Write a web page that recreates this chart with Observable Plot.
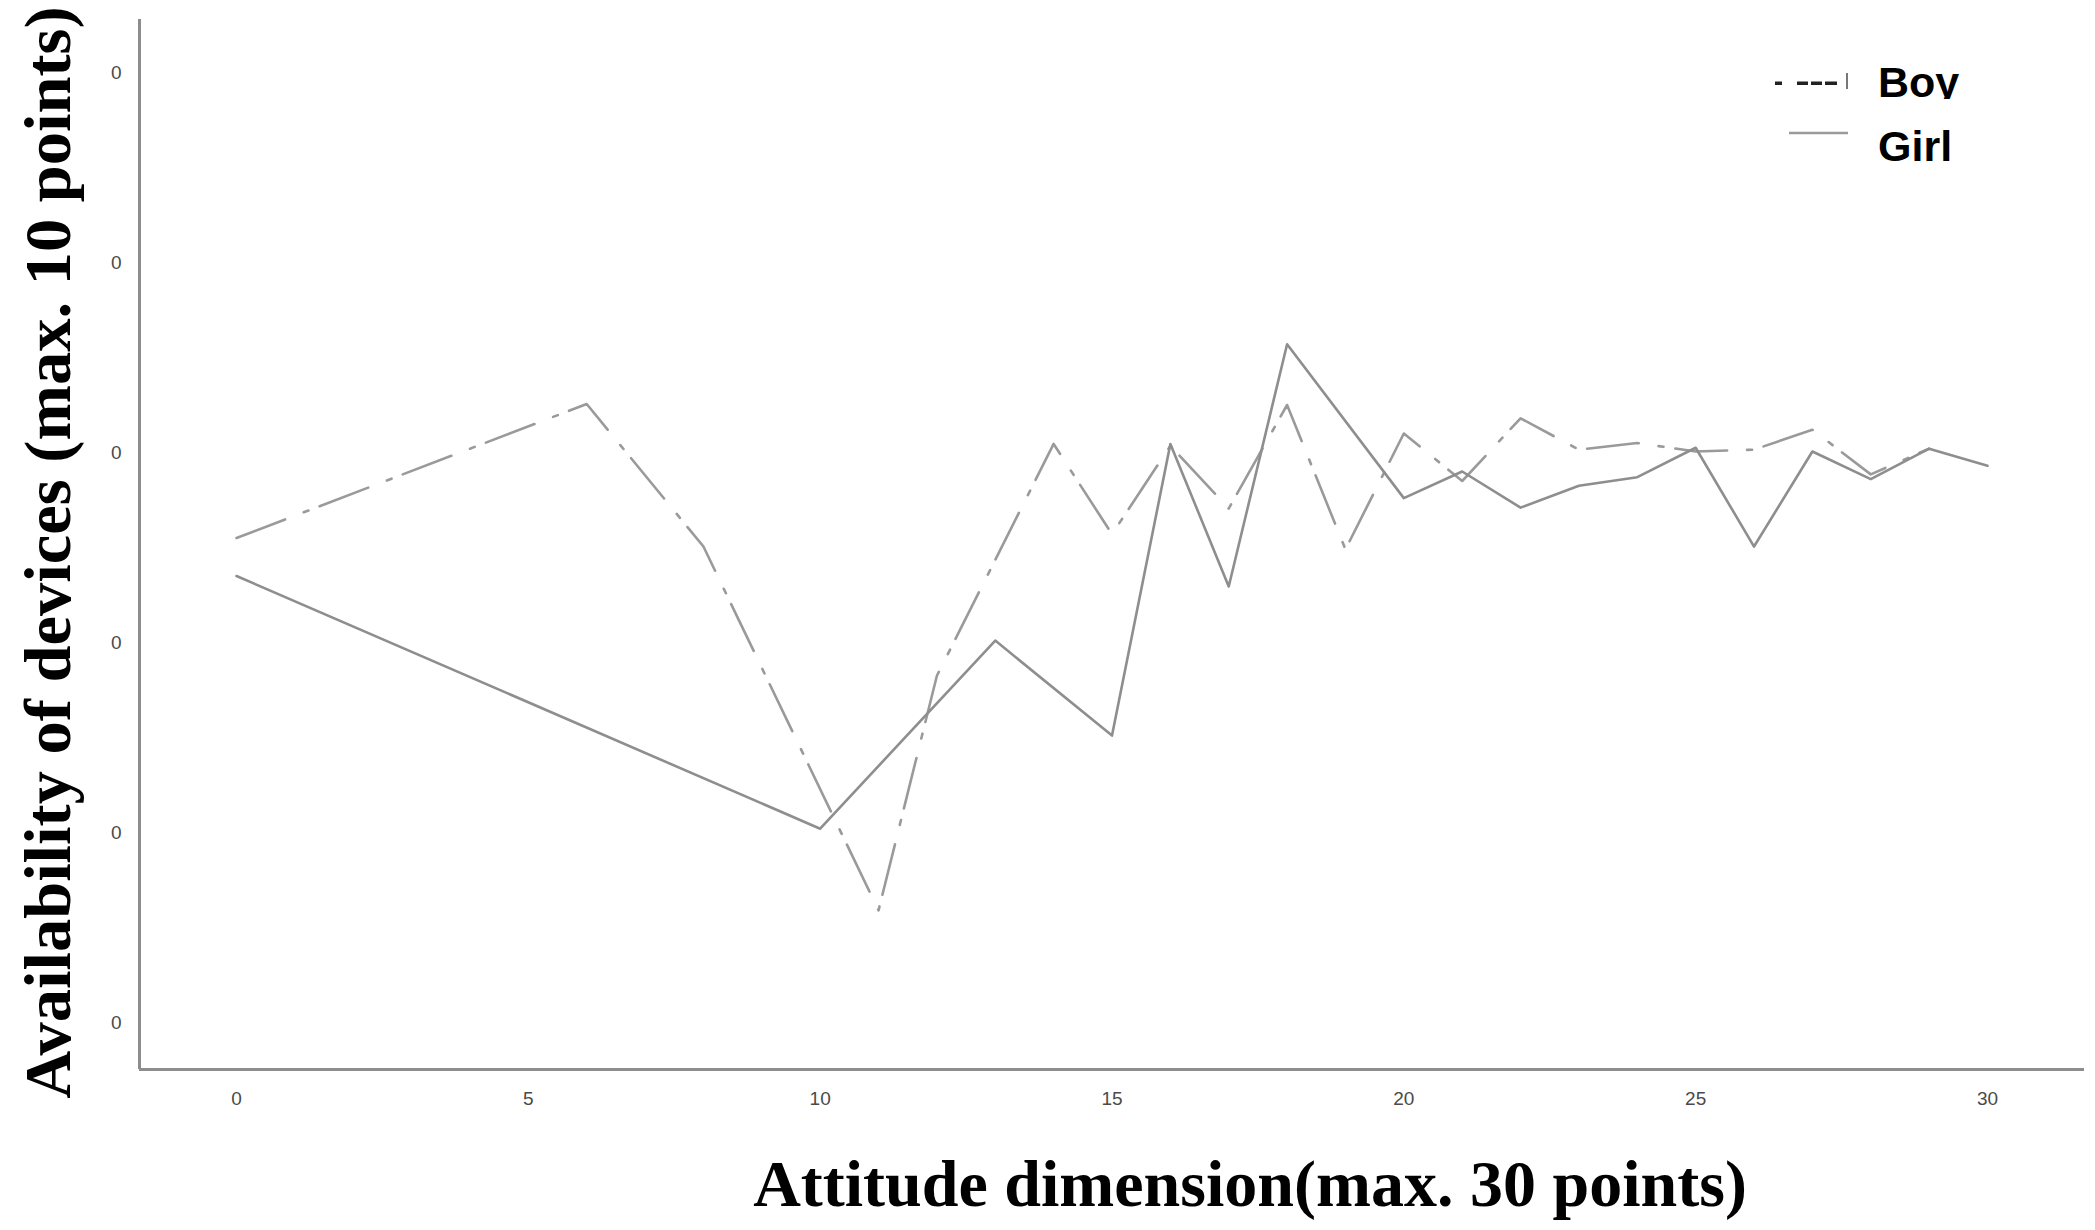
<!DOCTYPE html>
<html>
<head>
<meta charset="utf-8">
<script src="https://cdn.jsdelivr.net/npm/d3@7"></script>
<script src="https://cdn.jsdelivr.net/npm/@observablehq/plot@0.6"></script>
<style>
  html, body { margin: 0; padding: 0; background: #fff; }
  #wrap { position: relative; width: 2095px; height: 1230px; overflow: hidden; }
  #legend { position: absolute; left: 0; top: 0; }
</style>
</head>
<body>
<div id="wrap">
  <div id="chart"></div>
  <svg id="legend" width="2095" height="200"></svg>
</div>
<script>
// ---- data ----
const xTicks = [0, 5, 10, 15, 20, 25, 30];
const yTicks = [0, 2, 4, 6, 8, 10];
const yTickLabels = ["0", "0", "0", "0", "0", "0"];

const girlX = [0, 10, 13, 15, 16, 17, 18, 20, 21, 22, 23, 24, 25, 26, 27, 28, 29, 30];
const girlY = [4.70, 2.04, 4.02, 3.02, 6.09, 4.59, 7.14, 5.52, 5.80, 5.42, 5.65, 5.74, 6.05, 5.01, 6.01, 5.72, 6.04, 5.86];

const boyX = [0, 6, 8, 11, 12, 14, 15, 16, 17, 18, 19, 20, 21, 22, 23, 24, 25, 26, 27, 28, 29];
const boyY = [5.10, 6.51, 5.01, 1.18, 3.65, 6.09, 5.14, 6.07, 5.41, 6.50, 4.98, 6.20, 5.70, 6.36, 6.03, 6.10, 6.01, 6.03, 6.24, 5.77, 6.04];

const seriesNames = ["Boy", "Girl"];
const xTitle = "Attitude dimension(max. 30 points)";
const yTitle = "Availability of devices (max. 10 points)";

// ---- build tables ----
const girl = girlX.map((x, i) => ({x, y: girlY[i]}));
const boy = boyX.map((x, i) => ({x, y: boyY[i]}));

const xDomain = [-1.662, 31.662];
const yDomain = [-0.495, 10.558];

const chart = Plot.plot({
  width: 2095,
  height: 1230,
  marginLeft: 139,
  marginRight: 11,
  marginTop: 19,
  marginBottom: 161,
  style: {fontFamily: "'Liberation Sans', Arial, sans-serif", fontSize: "19px", color: "#4a4a4a", background: "#fff"},
  x: {domain: xDomain, ticks: xTicks, tickSize: 0, tickPadding: 22, label: null, tickFormat: d => String(d)},
  y: {domain: yDomain, ticks: yTicks, tickSize: 0, tickPadding: 18, label: null,
      tickFormat: d => yTickLabels[yTicks.indexOf(d)]},
  marks: [
    Plot.ruleY([yDomain[0]], {stroke: "#8d8d8d", strokeWidth: 3}),
    Plot.ruleX([xDomain[0]], {stroke: "#8d8d8d", strokeWidth: 3}),
    Plot.line(boy, {x: "x", y: "y", stroke: "#9a9a9a", strokeWidth: 2.6, strokeDasharray: "52,20,5,12"}),
    Plot.line(girl, {x: "x", y: "y", stroke: "#8e8e8e", strokeWidth: 2.6}),
    Plot.text([xTitle], {text: d => d, frameAnchor: "bottom", textAnchor: "middle", lineAnchor: "top", dx: 138, dy: 90,
      fontSize: 66, fontWeight: "bold", fontFamily: "'Liberation Serif', 'Times New Roman', serif", fill: "#000"}),
    Plot.text([yTitle], {text: d => d, frameAnchor: "left", textAnchor: "middle", rotate: -90, lineAnchor: "top", dx: -117, dy: 8,
      fontSize: 66.5, fontWeight: "bold", fontFamily: "'Liberation Serif', 'Times New Roman', serif", fill: "#000"})
  ]
});
document.getElementById("chart").appendChild(chart);

// ---- legend ----
const lg = d3.select("#legend");
lg.append("defs").append("clipPath").attr("id", "boyclip")
  .append("rect").attr("x", 1860).attr("y", 40).attr("width", 200).attr("height", 59);
// Boy symbol (dark dash pattern)
const boySym = lg.append("g").attr("fill", "#222");
[[1775, 7], [1797, 11], [1811, 11], [1825, 12]].forEach(([x, w]) =>
  boySym.append("rect").attr("x", x).attr("y", 81.5).attr("width", w).attr("height", 3.5));
boySym.append("rect").attr("x", 1846).attr("y", 73).attr("width", 2).attr("height", 16).attr("fill", "#777");
// Girl symbol
lg.append("line").attr("x1", 1789).attr("x2", 1848).attr("y1", 133).attr("y2", 133)
  .attr("stroke", "#9a9a9a").attr("stroke-width", 2.6);
lg.append("text").attr("x", 1878).attr("y", 97).attr("clip-path", "url(#boyclip)")
  .attr("font-family", "'Liberation Sans', Arial, sans-serif").attr("font-weight", "bold")
  .attr("font-size", 43).attr("fill", "#000").text(seriesNames[0]);
lg.append("text").attr("x", 1878).attr("y", 161)
  .attr("font-family", "'Liberation Sans', Arial, sans-serif").attr("font-weight", "bold")
  .attr("font-size", 43).attr("fill", "#000").text(seriesNames[1]);
</script>
</body>
</html>
